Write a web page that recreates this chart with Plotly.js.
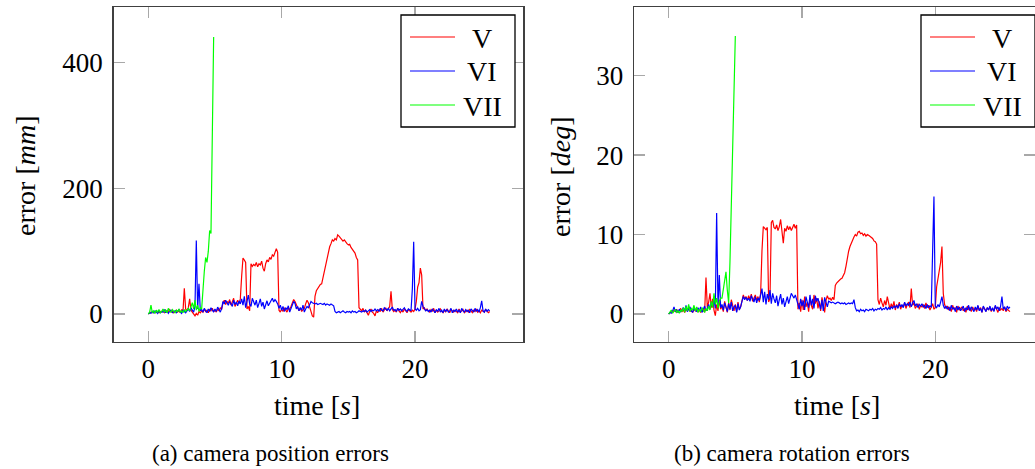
<!DOCTYPE html>
<html>
<head>
<meta charset="utf-8">
<script src="https://cdn.plot.ly/plotly-3.0.1.min.js"></script>
<style>html,body{margin:0;padding:0;background:#fff;}#chart{width:1035px;height:469px;}</style>
</head>
<body>
<div id="chart"></div>
<script>
// sampling of all series: t = 0, 0.1, 0.2, ... s
const timeStart = 0;
const timeStep = 0.1;

const seriesNames = ["V", "VI", "VII"];
const xTicks = [0, 10, 20];
const posTicks = [0, 200, 400];
const rotTicks = [0, 10, 20, 30];

// (a) camera position errors [mm]
const posV = [
  0, 1, 3, 2, 4, 2, 5, 3, 2, 4,
  3, 5, 2, 6, 3, 4, 7, 3, 5, 2,
  4, 6, 3, 5, 2, 7, 4, 41, 8, 5,
  10, 24, 6, 3, -2, -3, 1, -2, 4, 2,
  5, 3, 8, 4, 6, 2, 7, 5, 9, 4,
  6, 3, 8, 5, 10, 7, 18, 22, 15, 20,
  17, 23, 14, 19, 25, 12, 18, 22, 16, 24,
  60, 89, 86, 82, 8, 12, 5, 80, 76, 79,
  77, 82, 75, 80, 78, 84, 73, 68, 80, 86,
  83, 90, 87, 94, 92, 100, 104, 98, 6, 3,
  8, 4, 10, 6, 3, 9, 7, 12, 18, 23,
  20, 15, 8, 5, 10, 4, 7, 9, 16, 22,
  18, 12, 3, -3, -5, 28, 37, 41, 44, 47,
  48, 58, 72, 81, 92, 98, 107, 112, 118, 116,
  120, 118, 126, 124, 121, 119, 116, 118, 114, 112,
  110, 111, 106, 103, 99, 97, 90, 86, 10, 7,
  5, 9, 3, 6, 2, -2, 4, 8, 3, 1,
  -3, 5, 2, 7, 4, 9, 3, 6, 10, 5,
  8, 12, 36, 7, 4, 6, 3, 9, 5, 2,
  6, 3, 8, 4, 2, 7, 5, 3, 6, 4,
  8, 20, 43, 50, 73, 62, 8, 10, 5, 8,
  5, 3, 7, 4, 9, 2, 6, 3, 5, 8,
  4, 2, 6, 3, 8, 5, 2, 7, 4, 3,
  6, 4, 2, 8, 3, 5, 7, 2, 4, 6,
  3, 7, 5, 2, 6, 4, 8, 3, 5, 2,
  6, 4, 3, 7, 5, 2, 4
];
const posVI = [
  0, 2, 1, 4, 2, 5, 3, 1, 6, 2,
  4, 3, 7, 2, 5, 1, 4, 6, 2, 3,
  5, 2, 4, 7, 3, 1, 6, 4, 2, 5,
  8, 4, 10, 6, 3, 12, 117, 8, 48, 5,
  7, 3, 9, 5, 2, 8, 4, 10, 6, 3,
  8, 4, 11, 6, 3, 9, 20, 16, 22, 18,
  14, 20, 17, 12, 22, 15, 19, 13, 21, 16,
  24, 14, 28, 10, 20, 30, 16, 12, 25, 18,
  14, 22, 10, 17, 24, 12, 19, 8, 15, 21,
  13, 18, 22, 25, 19, 23, 20, 16, 9, 14,
  6, 12, 4, 10, 7, 13, 3, 9, 15, 20,
  17, 8, 12, 5, 10, 6, 14, 3, 8, 12,
  10, 16, 20, 18, 17, 16, 17, 15, 16, 17,
  16, 15, 17, 14, 16, 15, 14, 16, 15, 13,
  4, 2, 3, 4, 2, 3, 5, 3, 2, 4,
  3, 4, 2, 5, 3, 4, 2, 3, 5, 4,
  3, 5, 4, 6, 3, 5, 7, 4, 6, 5,
  8, 5, 7, 4, 9, 6, 5, 10, 7, 6,
  9, 5, 8, 11, 6, 7, 4, 9, 6, 8,
  5, 7, 10, 6, 4, 8, 6, 5, 40, 115,
  8, 6, 9, 5, 7, 20, 12, 8, 5, 7,
  4, 6, 3, 8, 5, 2, 7, 4, 9, 3,
  6, 2, 8, 4, 7, 3, 5, 9, 2, 6,
  4, 8, 3, 6, 2, 9, 5, 3, 7, 4,
  6, 2, 8, 5, 3, 9, 4, 7, 3, 10,
  21, 5, 3, 8, 4, 7, 5
];
const posVII = [
  0, 3, 14, 2, 5, 1, 6, 3, 7, 2,
  4, 8, 3, 6, 2, 9, 5, 3, 7, 4,
  2, 6, 4, 8, 3, 5, 2, 7, 4, 6,
  9, 5, 12, 18, 8, 22, 6, 14, 4, 10,
  8, 45, 68, 90, 82, 100, 133, 128, 261, 441
];

// (b) camera rotation errors [deg]
const rotV = [
  0, 0.1, 0.3, 0.2, 0.5, 0.3, 0.6, 0.2, 0.4, 0.7,
  0.3, 0.5, 0.2, 0.6, 0.4, 0.8, 0.3, 0.5, 0.2, 0.6,
  0.4, 0.7, 0.3, 0.5, 0.2, 0.6, 0.4, 0.3, 4.6, 0.8,
  1.5, 2.6, 0.8, 1.9, 0.5, -0.2, 1.2, 0.4, 1.8, 0.6,
  1.0, 0.3, 1.6, 0.7, 0.2, 1.4, 0.5, 1.8, 0.9, 0.4,
  1.2, 0.3, 1.5, 0.6, 0.9, 1.8, 2.4, 1.9, 2.2, 1.7,
  2.3, 1.8, 2.5, 1.6, 2.1, 2.4, 1.7, 2.2, 1.5, 2.6,
  8.0, 11.0, 10.8, 10.6, 10.9, 1.5, 2.0, 11.5, 11.8, 10.9,
  10.7, 11.2, 10.5, 11.0, 11.9, 10.6, 8.9, 10.8, 10.4, 11.1,
  10.6, 11.0, 10.5, 10.9, 11.3, 10.8, 11.2, 0.6, 1.4, 0.3,
  1.8, 0.5, 2.2, 0.9, 1.5, 0.3, 2.0, 1.1, 0.6, 2.4,
  1.3, 2.0, 0.7, 1.6, 0.4, 2.1, 1.0, 0.2, 1.7, 2.3,
  1.9, 2.0, 1.7, 2.1, 1.8, 3.6, 3.9, 4.1, 4.3, 4.4,
  4.5, 4.8, 5.2, 6.0, 7.2, 7.9, 8.5, 9.0, 9.4, 9.7,
  10.0, 9.8, 10.3, 10.4, 10.1, 10.2, 9.9, 10.1, 9.8, 10.0,
  9.9, 9.8, 9.6, 9.5, 9.2, 9.1, 8.8, 1.8, 1.2, 2.0,
  1.4, 0.9, 1.7, 1.1, 2.2, 1.5, 0.6, 1.3, 0.8, 1.6,
  0.5, 1.2, 0.8, 1.5, 0.6, 1.1, 0.9, 1.4, 0.7, 1.2,
  1.5, 0.8, 3.2, 1.1, 1.4, 0.7, 1.0, 1.3, 0.6, 1.1,
  0.9, 1.2, 0.7, 1.4, 0.8, 1.1, 0.5, 0.9, 1.3, 0.6,
  0.8, 3.4, 4.5, 5.5, 6.5, 8.5, 2.6, 1.2, 0.7, 1.0,
  0.5, 0.9, 0.3, 1.1, 0.6, 0.8, 0.2, 1.0, 0.5, 0.7,
  0.9, 0.4, 0.7, 0.2, 1.0, 0.6, 0.8, 0.3, 0.9, 0.5,
  0.7, 0.3, 1.0, 0.5, 0.8, 0.2, 0.9, 0.6, 0.4, 0.8,
  0.5, 0.9, 0.3, 0.7, 0.4, 1.0, 0.6, 0.2, 0.8, 0.5,
  0.7, 0.4, 0.9, 0.3, 0.6, 0.5, 0.3
];
const rotVI = [
  0, 0.2, 0.1, 0.4, 0.9, 0.3, 0.5, 0.2, 0.6, 0.3,
  0.5, 0.8, 0.4, 1.1, 0.3, 0.6, 0.9, 0.4, 0.2, 0.7,
  0.5, 0.3, 0.8, 0.4, 0.9, 0.2, 0.6, 1.0, 0.4, 0.7,
  1.2, 0.6, 1.5, 0.9, 1.8, 0.7, 12.7, 1.0, 4.9, 0.8,
  1.2, 0.5, 1.4, 0.8, 0.3, 1.3, 0.6, 1.5, 0.4, 0.9,
  1.1, 0.2, 1.3, 0.5, 0.9, 1.6, 2.2, 1.8, 2.1, 1.7,
  2.0, 1.6, 2.3, 1.9, 1.5, 2.2, 1.4, 2.0, 1.7, 2.4,
  3.2, 1.5, 2.8, 1.2, 2.5, 1.8, 3.0, 1.3, 2.6, 1.9,
  1.4, 2.3, 1.0, 1.8, 2.5, 1.2, 2.0, 0.9, 1.6, 2.2,
  1.3, 2.1, 2.6, 2.3, 2.0, 2.4, 1.8, 1.2, 0.6, 1.9,
  1.0, 1.7, 0.5, 2.2, 1.3, 0.8, 2.4, 1.1, 1.9, 0.7,
  2.3, 1.6, 2.0, 1.2, 0.6, 1.8, 0.4, 2.1, 1.4, 0.9,
  1.6, 1.5, 1.4, 1.5, 1.4, 1.3, 1.4, 1.5, 1.4, 1.3,
  1.4, 1.3, 1.4, 1.2, 1.3, 1.4, 1.3, 1.4, 1.3, 1.8,
  0.8, 0.4, 0.5, 0.3, 0.6, 0.4, 0.5, 0.3, 0.6, 0.5,
  0.4, 0.6, 0.5, 0.7, 0.4, 0.6, 0.5, 0.7, 0.6, 0.8,
  0.5, 0.7, 0.6, 0.9, 0.5, 0.8, 0.6, 0.9, 0.7, 1.0,
  0.8, 1.1, 0.7, 1.3, 0.9, 1.2, 0.8, 1.5, 1.0, 1.3,
  1.1, 1.5, 0.9, 1.4, 1.7, 1.0, 1.3, 0.8, 1.2, 1.0,
  1.3, 0.9, 1.1, 0.7, 1.2, 0.8, 1.0, 0.9, 8.0, 14.8,
  1.0, 0.8, 1.2, 0.9, 1.5, 2.2, 1.1, 0.7, 1.0, 0.6,
  0.9, 0.4, 1.1, 0.6, 0.8, 0.3, 1.0, 0.5, 0.9, 0.4,
  0.7, 1.0, 0.3, 0.8, 0.5, 1.1, 0.4, 0.9, 0.6, 0.3,
  0.9, 0.5, 1.1, 0.4, 0.7, 0.2, 1.0, 0.6, 0.3, 0.8,
  0.5, 1.0, 0.4, 0.8, 0.3, 1.1, 0.6, 0.9, 0.4, 1.0,
  2.2, 0.6, 0.9, 0.4, 1.0, 0.7, 0.9
];
const rotVII = [
  0, 0.2, 0.5, 0.1, 0.3, 0.6, 0.2, 0.4, 0.1, 0.5,
  0.3, 0.8, 0.2, 1.0, 0.4, 1.2, 0.3, 0.7, 0.5, 1.1,
  0.4, 0.9, 0.2, 0.6, 0.3, 0.8, 0.5, 0.2, 0.7, 0.4,
  1.0, 0.5, 1.6, 0.8, 2.6, 1.2, 2.0, 0.7, 1.5, 2.0,
  2.0, 3.2, 4.0, 5.3, 3.0, 1.4, 6.6, 14.3, 22.0, 29.7,
  35.0
];

const colors = ["#ff0000", "#0000ff", "#00ff00"];
const serif = "Liberation Serif";
const W = 1035, H = 469;

function mk(y, i, xa, ya) {
  return {
    type: "scatter", mode: "lines",
    x0: timeStart, dx: timeStep, y: y,
    name: seriesNames[i],
    line: {color: colors[i], width: 1.2},
    xaxis: xa, yaxis: ya, showlegend: false
  };
}

const data = [
  mk(posV, 0, "x", "y"),
  mk(posVI, 1, "x", "y"),
  mk(posVII, 2, "x", "y"),
  mk(rotV, 0, "x2", "y2"),
  mk(rotVI, 1, "x2", "y2"),
  mk(rotVII, 2, "x2", "y2")
];

function axisBase() {
  return {
    showline: true, linecolor: "#404040", linewidth: 1.3,
    mirror: "ticks", ticks: "inside", ticklen: 11, tickwidth: 1.3,
    tickcolor: "#a8a8a8", showgrid: false, zeroline: false,
    tickfont: {family: serif, size: 27, color: "#000"},
    fixedrange: true
  };
}
const yDom = [1 - 341.5 / H, 1 - 7.3 / H];

function ann(text, px, py, size, angle, xanchor) {
  return {text: text, textangle: angle || 0, xref: "paper", yref: "paper",
    x: px / W, y: 1 - py / H, xanchor: xanchor || "center", yanchor: "middle",
    showarrow: false, font: {family: serif, size: size, color: "#000"}};
}

// legend boxes drawn in paper space (box left edge, px)
const legendLefts = [401, 921];
const legendRowY = [37, 71, 105];
const shapes = [];
const annotations = [
  ann("error [<i>mm</i>]", 25, 176, 28, -90),
  ann("error [<i>deg</i>]", 560, 177, 28, -90),
  ann("time [<i>s</i>]", 317, 405, 28),
  ann("time [<i>s</i>]", 837, 405, 28),
  ann("(a) camera position errors", 270, 453, 23),
  ann("(b) camera rotation errors", 792, 453, 23)
];
legendLefts.forEach(function (lx) {
  shapes.push({type: "rect", xref: "paper", yref: "paper", layer: "above",
    x0: lx / W, x1: (lx + 114) / W, y0: 1 - 15 / H, y1: 1 - 127 / H,
    line: {color: "#000", width: 1.3}, fillcolor: "#fff"});
  seriesNames.forEach(function (nm, i) {
    const ry = legendRowY[i];
    shapes.push({type: "line", xref: "paper", yref: "paper", layer: "above",
      x0: (lx + 9) / W, x1: (lx + 54) / W, y0: 1 - ry / H, y1: 1 - ry / H,
      line: {color: colors[i], width: 1.2}});
    annotations.push(ann(nm, lx + 81, ry + 1, 28));
  });
});

const layout = {
  width: W, height: H, autosize: false,
  margin: {l: 0, r: 0, t: 0, b: 0},
  paper_bgcolor: "#fff", plot_bgcolor: "#fff",
  font: {family: serif, color: "#000"},
  showlegend: false,
  xaxis: Object.assign(axisBase(), {domain: [113.5 / W, 523.3 / W], range: [-2.61, 28.12], tickvals: xTicks, anchor: "y", ticklabelstandoff: 3}),
  yaxis: Object.assign(axisBase(), {domain: yDom, range: [-43.8, 488.2], tickvals: posTicks, anchor: "x", ticklabelstandoff: 4}),
  xaxis2: Object.assign(axisBase(), {domain: [634 / W, 1], range: [-2.6, 27.48], tickvals: xTicks, anchor: "y2", ticklabelstandoff: 3}),
  yaxis2: Object.assign(axisBase(), {domain: yDom, range: [-3.46, 38.6], tickvals: rotTicks, anchor: "x2", ticklabelstandoff: 4}),
  shapes: shapes,
  annotations: annotations
};

Plotly.newPlot("chart", data, layout, {staticPlot: true, displayModeBar: false});
</script>
</body>
</html>
